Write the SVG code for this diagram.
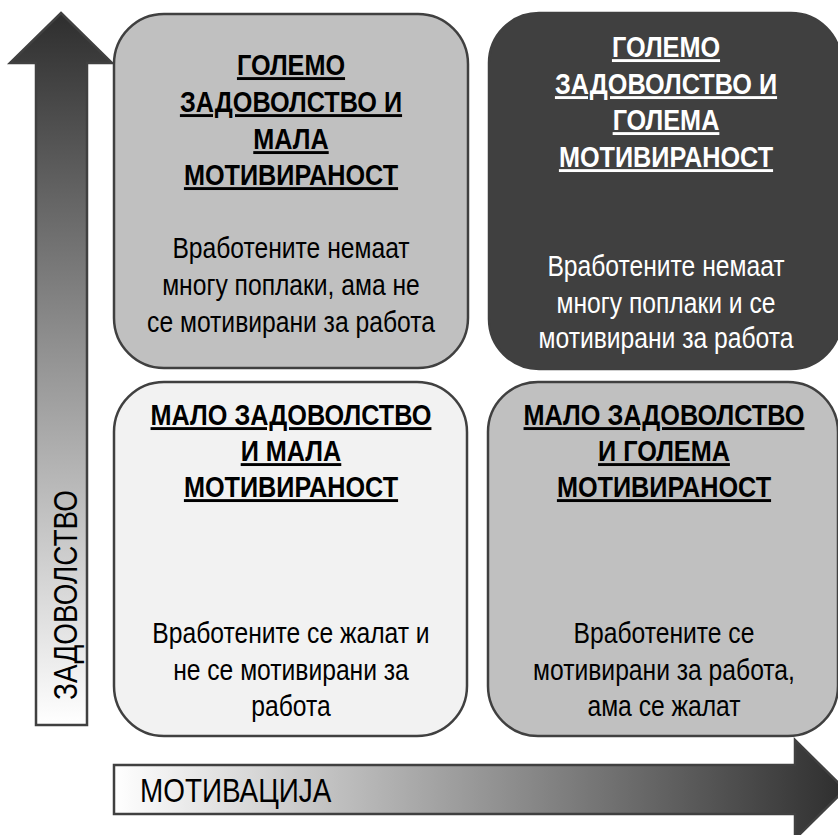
<svg xmlns="http://www.w3.org/2000/svg" width="838" height="835" viewBox="0 0 838 835">
<defs>
<linearGradient id="gv" x1="0" y1="0" x2="0" y2="1">
<stop offset="0" stop-color="#2e2e2e"/>
<stop offset="1" stop-color="#ffffff"/>
</linearGradient>
<linearGradient id="gh" x1="0" y1="0" x2="1" y2="0">
<stop offset="0" stop-color="#ffffff"/>
<stop offset="1" stop-color="#2e2e2e"/>
</linearGradient>
<style>
text{font-family:"Liberation Sans",Arial,sans-serif;text-anchor:middle}
.box{stroke:#404040;stroke-width:2.5}
.t{font-size:29px;font-weight:bold;text-decoration:underline}
.b{font-size:29px}
.w{fill:#ffffff}
.k{fill:#000000}
.ax{font-size:34px;fill:#000000}
</style>
</defs>
<g id="connectors">
<path d="M61,13 L112,63 L87,63 L87,725 L36,725 L36,63 L10,63 Z" fill="url(#gv)" stroke="#404040" stroke-width="2.5" stroke-linejoin="miter"/>
<path d="M114,765 L795,765 L795,740 L845,789.5 L795,839 L795,814 L114,814 Z" fill="url(#gh)" stroke="#404040" stroke-width="2.5"/>
<text class="ax" transform="translate(77,595) rotate(-90) scale(0.82,1)">ЗАДОВОЛСТВО</text>
<text class="ax" transform="translate(140,802) scale(0.82,1)" style="text-anchor:start">МОТИВАЦИЈА</text>
</g>
<g id="node-tl">
<rect class="box" x="114" y="14" width="354" height="354" rx="50" fill="#c0c0c0"/>
<g transform="matrix(0.87,0,0,1,37.83,0)">
<text class="t k" x="291" y="75">ГОЛЕМО</text>
<text class="t k" x="291" y="112">ЗАДОВОЛСТВО И</text>
<text class="t k" x="291" y="149">МАЛА</text>
<text class="t k" x="291" y="185">МОТИВИРАНОСТ</text>
</g>
<g transform="matrix(0.85,0,0,1,43.65,0)">
<text class="b k" x="291" y="258">Вработените немаат</text>
<text class="b k" x="291" y="295">многу поплаки, ама не</text>
<text class="b k" x="291" y="332">се мотивирани за работа</text>
</g>
</g>
<g id="node-tr">
<rect x="489" y="13" width="352" height="356" rx="50" fill="#404040" stroke="#404040" stroke-width="2.5"/>
<g transform="matrix(0.87,0,0,1,86.58,0)">
<text class="t w" x="666" y="57">ГОЛЕМО</text>
<text class="t w" x="666" y="94">ЗАДОВОЛСТВО И</text>
<text class="t w" x="666" y="130">ГОЛЕМА</text>
<text class="t w" x="666" y="167">МОТИВИРАНОСТ</text>
</g>
<g transform="matrix(0.85,0,0,1,99.9,0)">
<text class="b w" x="666" y="276">Вработените немаат</text>
<text class="b w" x="666" y="313">многу поплаки и се</text>
<text class="b w" x="666" y="348">мотивирани за работа</text>
</g>
</g>
<g id="node-bl">
<rect class="box" x="114" y="382" width="353" height="354" rx="50" fill="#f2f2f2"/>
<g transform="matrix(0.87,0,0,1,37.83,0)">
<text class="t k" x="291" y="425">МАЛО ЗАДОВОЛСТВО</text>
<text class="t k" x="291" y="461">И МАЛА</text>
<text class="t k" x="291" y="497">МОТИВИРАНОСТ</text>
</g>
<g transform="matrix(0.85,0,0,1,43.65,0)">
<text class="b k" x="291" y="643">Вработените се жалат и</text>
<text class="b k" x="291" y="680">не се мотивирани за</text>
<text class="b k" x="291" y="716">работа</text>
</g>
</g>
<g id="node-br">
<rect class="box" x="488" y="382" width="350" height="354" rx="50" fill="#c0c0c0"/>
<g transform="matrix(0.87,0,0,1,86.32,0)">
<text class="t k" x="664" y="425">МАЛО ЗАДОВОЛСТВО</text>
<text class="t k" x="664" y="461">И ГОЛЕМА</text>
<text class="t k" x="664" y="497">МОТИВИРАНОСТ</text>
</g>
<g transform="matrix(0.85,0,0,1,99.6,0)">
<text class="b k" x="664" y="643">Вработените се</text>
<text class="b k" x="664" y="680">мотивирани за работа,</text>
<text class="b k" x="664" y="716">ама се жалат</text>
</g>
</g>
</svg>
